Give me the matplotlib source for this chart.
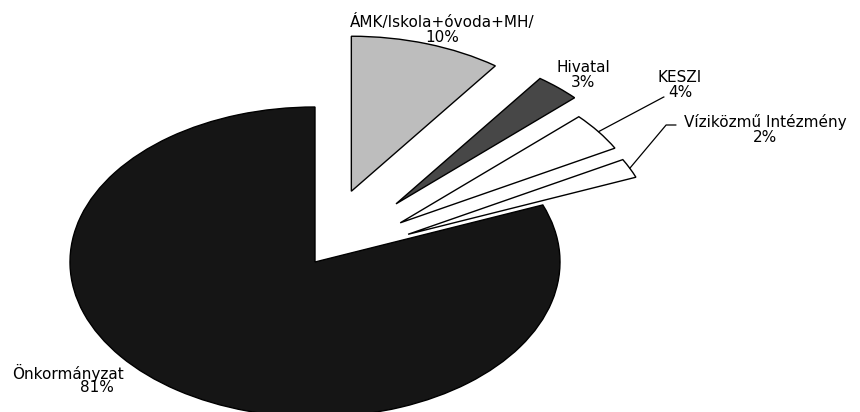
import numpy as np
import matplotlib.pyplot as plt

# slices, clockwise from 12 o'clock
labels = ['ÁMK/Iskola+óvoda+MH/', 'Hivatal', 'KESZI', 'Víziközmű Intézmény', 'Önkormányzat']
values = [10, 3, 4, 2, 81]
colors = ['#bdbdbd', '#474747', 'white', 'white', '#151515']
explode = [0.48, 0.5, 0.43, 0.42, 0]

W, H = 860, 412
# pie centre and radii in pixels (the pie is drawn as a flat ellipse)
cx, cy, rx, ry = 315, 262, 245, 155


def px(x, y):
    return (x - cx) / rx, (cy - y) / ry


fig = plt.figure(figsize=(W / 100, H / 100), dpi=100)
ax = fig.add_axes([0, 0, 1, 1])
wedges, _ = ax.pie(values, explode=explode, colors=colors, startangle=90,
                   counterclock=False,
                   wedgeprops=dict(edgecolor='black', linewidth=1))
ax.set_aspect('auto')
ax.set_xlim(px(0, 0)[0], px(W, 0)[0])
ax.set_ylim(px(0, H)[1], px(0, 0)[1])
ax.axis('off')

font = dict(family='DejaVu Sans', fontsize=11, color='black')


def outer_point(w):
    t = np.deg2rad((w.theta1 + w.theta2) / 2)
    return w.center[0] + w.r * np.cos(t), w.center[1] + w.r * np.sin(t)


pct = [f'{v}%' for v in values]

# ÁMK and Hivatal: plain labels above the slices
ax.text(*px(442, 30), labels[0] + '\n' + pct[0], ha='center', va='center',
        linespacing=1.0, **font)
ax.text(*px(583, 75), labels[1] + '\n' + pct[1], ha='center', va='center',
        linespacing=1.0, **font)

# KESZI with leader line
ax.text(*px(680, 85), labels[2] + '\n' + pct[2], ha='center', va='center',
        linespacing=1.0, **font)
ax.annotate('', xy=outer_point(wedges[2]), xytext=px(664, 97),
            arrowprops=dict(arrowstyle='-', lw=0.9, color='black',
                            shrinkA=0, shrinkB=0,
                            connectionstyle='angle,angleA=0,angleB=28,rad=0'))

# Víziközmű with leader line
ax.text(*px(765, 130), labels[3] + '\n' + pct[3], ha='center', va='center',
        linespacing=1.0, **font)
ax.annotate('', xy=outer_point(wedges[3]), xytext=px(676, 125),
            arrowprops=dict(arrowstyle='-', lw=0.9, color='black',
                            shrinkA=0, shrinkB=0,
                            connectionstyle='angle,angleA=0,angleB=50,rad=0'))

# Önkormányzat, partly hidden behind the big slice
ax.text(*px(12, 373), labels[4], ha='left', va='center', zorder=0, **font)
ax.text(*px(97, 388), pct[4], ha='center', va='center', zorder=0, **font)

fig.savefig('out.png', dpi=100)
